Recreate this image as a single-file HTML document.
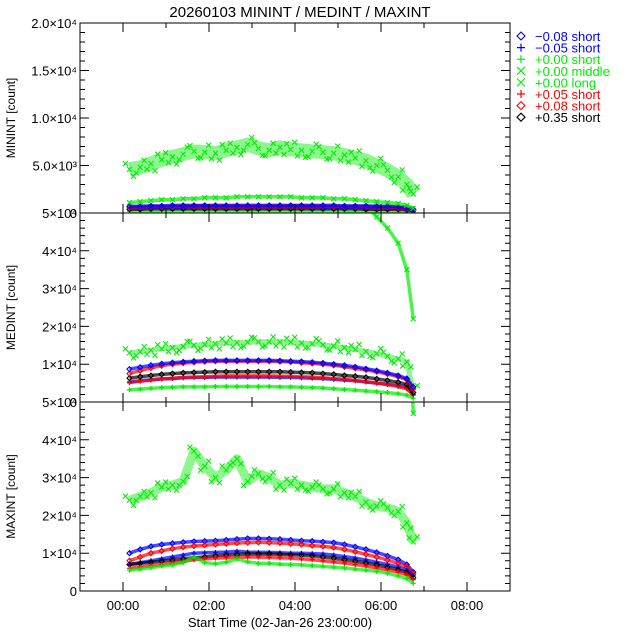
<!DOCTYPE html>
<html><head><meta charset="utf-8"><style>
body{margin:0;background:#fff}
svg{display:block;font-family:"Liberation Sans",sans-serif}
</style></head><body>
<svg id="c" width="640" height="640" viewBox="0 0 640 640"></svg>
<script>
const times=[0.15,0.4,0.65,0.9,1.15,1.4,1.65,1.9,2.15,2.4,2.65,2.9,3.15,3.4,3.65,3.9,4.15,4.4,4.65,4.9,5.15,5.4,5.65,5.9,6.15,6.4,6.6,6.75];
const xTickLabels=["00:00","02:00","04:00","06:00","08:00"];
const xTickHours=[0,2,4,6,8];
// values in 1e3 counts
const minBlueDia=[0.7,0.7,0.75,0.75,0.8,0.8,0.8,0.8,0.8,0.8,0.8,0.8,0.8,0.8,0.8,0.8,0.8,0.8,0.8,0.8,0.75,0.75,0.75,0.7,0.7,0.65,0.6,0.4];
const minBluePlus=[0.55,0.55,0.6,0.6,0.6,0.6,0.65,0.65,0.65,0.65,0.65,0.65,0.65,0.65,0.65,0.65,0.65,0.65,0.6,0.6,0.6,0.6,0.55,0.55,0.5,0.5,0.45,0.3];
const minGreenPlus=[0.2,0.2,0.2,0.25,0.25,0.25,0.25,0.25,0.25,0.25,0.25,0.25,0.25,0.25,0.25,0.25,0.25,0.25,0.25,0.25,0.25,0.2,0.2,0.2,0.2,0.2,0.15,0.1];
const minMiddle=[1.1,1.2,1.3,1.4,1.4,1.5,1.5,1.6,1.6,1.6,1.7,1.7,1.7,1.7,1.7,1.7,1.6,1.6,1.6,1.5,1.5,1.4,1.3,1.2,1.1,1.0,0.8,0.5];
const minLong=[4.6,4.8,5.2,5.6,5.9,6.2,6.5,6.4,6.3,6.6,6.9,7.2,6.8,6.6,6.9,6.7,6.6,6.5,6.4,6.3,6.1,5.8,5.5,5.0,4.5,3.8,3.0,2.0];
const minRedPlus=[0.5,0.5,0.55,0.55,0.6,0.6,0.6,0.6,0.6,0.6,0.6,0.6,0.6,0.6,0.6,0.6,0.6,0.6,0.6,0.6,0.55,0.55,0.55,0.5,0.5,0.45,0.4,0.3];
const minRedDia=[0.65,0.65,0.7,0.7,0.7,0.75,0.75,0.75,0.75,0.75,0.75,0.75,0.75,0.75,0.75,0.75,0.75,0.75,0.75,0.7,0.7,0.7,0.7,0.65,0.65,0.6,0.55,0.35];
const minBlack=[0.4,0.4,0.45,0.45,0.45,0.45,0.45,0.45,0.45,0.45,0.45,0.45,0.45,0.45,0.45,0.45,0.45,0.45,0.45,0.45,0.45,0.45,0.4,0.4,0.4,0.4,0.35,0.25];

const medBlueDia=[8.7,9.2,9.7,10.1,10.4,10.6,10.8,10.9,11.0,11.0,11.0,11.0,11.0,11.0,10.9,10.8,10.7,10.5,10.3,10.0,9.7,9.3,8.8,8.3,7.7,7.0,6.2,4.0];
const medBluePlus=[5.3,5.6,5.9,6.1,6.2,6.4,6.5,6.5,6.6,6.6,6.6,6.6,6.6,6.6,6.5,6.5,6.4,6.3,6.2,6.0,5.8,5.6,5.3,5.0,4.7,4.3,3.8,2.0];
const medGreenPlus=[3.2,3.4,3.6,3.8,3.9,4.0,4.0,4.0,4.1,4.1,4.1,4.1,4.1,4.1,4.0,4.0,3.9,3.8,3.7,3.5,3.3,3.1,2.9,2.7,2.5,2.2,1.8,1.0];
const medMiddle=[80,80,80,80,80,80,80,80,80,80,80,80,80,80,80,80,80,80,80,80,80,60,52,49,46,42,35,22];
const medLong=[13.0,13.3,13.7,14.1,14.4,14.7,15.0,15.2,15.4,15.6,15.7,15.8,15.9,15.9,15.9,15.8,15.6,15.4,15.1,14.8,14.4,13.9,13.4,12.8,12.1,11.4,10.6,3.0];
const medRedPlus=[5.1,5.5,5.8,6.1,6.3,6.5,6.6,6.7,6.8,6.9,6.9,6.9,6.9,6.9,6.8,6.8,6.7,6.6,6.4,6.2,6.0,5.7,5.4,5.0,4.6,4.1,3.5,1.8];
const medRedDia=[7.5,8.3,9.0,9.6,10.0,10.3,10.5,10.7,10.8,10.8,10.8,10.8,10.8,10.8,10.7,10.6,10.4,10.2,10.0,9.7,9.3,8.9,8.5,8.0,7.4,6.7,5.9,3.5];
const medBlack=[6.3,6.7,7.0,7.3,7.5,7.7,7.8,7.9,8.0,8.0,8.0,8.0,8.0,8.0,8.0,7.9,7.8,7.7,7.5,7.3,7.0,6.8,6.5,6.1,5.7,5.2,4.6,2.5];

const maxBlueDia=[10,11,11.8,12.3,12.6,12.9,13.1,13.2,13.3,13.5,13.7,13.9,13.9,13.8,13.7,13.5,13.3,13.2,13.0,12.8,12.3,11.7,11.0,10.2,9.3,8.3,7.0,5.0];
const maxBluePlus=[7,7.5,8,8.5,9,9.5,10,10.1,10.2,10.3,10.5,10.3,10.2,10.2,10.1,10.0,10.0,9.9,9.8,9.5,9.1,8.7,8.2,7.6,7.0,6.3,5.5,4.0];
const maxGreenPlus=[5.5,5.8,6.2,6.6,6.9,7.5,9.0,7.5,7.2,7.6,8.5,7.7,7.3,7.3,7.1,7.0,6.9,6.7,6.5,6.3,6.1,5.8,5.5,5.2,4.7,4.0,3.3,2.0];
const maxMiddle=[80,80,80,80,80,80,80,80,80,80,80,80,80,80,80,80,80,80,80,80,80,80,80,80,80,80,80,47];
const maxLong=[24,25,26,27.5,28,29,37,33,30,32,35,29,31,30,28,28.5,28,27.5,27,27,26,25,23.5,22.5,22,21,18,13];
const maxRedPlus=[6,6.3,6.7,7.0,7.4,7.8,8.3,8.5,8.7,8.8,8.9,9.0,9.0,8.9,8.8,8.7,8.5,8.3,8.0,7.7,7.4,7.0,6.6,6.1,5.6,5.0,4.3,3.0];
const maxRedDia=[8,9,10,10.6,11.2,11.6,11.9,12.1,12.3,12.5,12.7,12.8,12.9,12.8,12.7,12.5,12.3,12.0,11.8,11.5,11.0,10.4,9.7,9.0,8.2,7.3,6.3,4.5];
const maxBlack=[7,7.3,7.6,7.9,8.2,8.5,8.8,9.0,9.3,9.5,9.7,9.8,9.8,9.8,9.7,9.6,9.5,9.3,9.0,8.7,8.3,7.9,7.4,6.9,6.3,5.6,4.9,3.5];

const legendLabels=["\u22120.08 short","\u22120.05 short","+0.00 short","+0.00 middle","+0.00 long","+0.05 short","+0.08 short","+0.35 short"];

const NS="http://www.w3.org/2000/svg";
const svg=document.getElementById('c');
function mk(tag,attrs,parent){const e=document.createElementNS(NS,tag);for(const k in attrs)e.setAttribute(k,attrs[k]);(parent||svg).appendChild(e);return e;}
const X0=80,X1=510,T0=-1,T1=9;
const xs=h=>X0+(h-T0)/(T1-T0)*(X1-X0);
const styles=[{c:"#0000ff",m:"d"},{c:"#0000ff",m:"p"},{c:"#00ee00",m:"p"},{c:"#00ee00",m:"x"},{c:"#00ee00",m:"x"},{c:"#ff0000",m:"p"},{c:"#ff0000",m:"d"},{c:"#000000",m:"d"}];
const panels=[
 {name:"minint",top:23,bot:213,max:20,title:"MININT [count]",ticks:[[0,"0"],[5,"5.0\u00d710\u00b3"],[10,"1.0\u00d710\u2074"],[15,"1.5\u00d710\u2074"],[20,"2.0\u00d710\u2074"]],minor:1,
  series:[minGreenPlus,minBlack,minRedPlus,minBluePlus,minRedDia,minBlueDia,minMiddle,minLong],idx:[2,7,5,1,6,0,3,4]},
 {name:"medint",top:213,bot:402,max:50,title:"MEDINT [count]",ticks:[[0,"0"],[10,"1\u00d710\u2074"],[20,"2\u00d710\u2074"],[30,"3\u00d710\u2074"],[40,"4\u00d710\u2074"],[50,"5\u00d710\u2074"]],minor:2,
  series:[medGreenPlus,medLong,medBluePlus,medRedPlus,medBlack,medRedDia,medBlueDia,medMiddle],idx:[2,4,1,5,7,6,0,3]},
 {name:"maxint",top:402,bot:591,max:50,title:"MAXINT [count]",ticks:[[0,"0"],[10,"1\u00d710\u2074"],[20,"2\u00d710\u2074"],[30,"3\u00d710\u2074"],[40,"4\u00d710\u2074"],[50,"5\u00d710\u2074"]],minor:2,
  series:[maxLong,maxBlueDia,maxRedDia,maxBluePlus,maxBlack,maxRedPlus,maxGreenPlus,maxMiddle],idx:[4,0,6,1,7,5,2,3]}
];
function marker(g,m,x,y,c,s){
 if(m==="d")mk('path',{d:`M${x} ${y-s}L${x+s} ${y}L${x} ${y+s}L${x-s} ${y}Z`,fill:"none",stroke:c,'stroke-width':1.1},g);
 else if(m==="p")mk('path',{d:`M${x-s} ${y}H${x+s}M${x} ${y-s}V${y+s}`,stroke:c,'stroke-width':1.2},g);
 else mk('path',{d:`M${x-s} ${y-s}L${x+s} ${y+s}M${x-s} ${y+s}L${x+s} ${y-s}`,stroke:c,'stroke-width':1.1},g);
}
mk('text',{x:300,y:17,'text-anchor':'middle','font-size':15,fill:'#000',}).textContent="20260103 MININT / MEDINT / MAXINT";
panels.forEach((p,pi)=>{
 const ys=v=>p.bot-v/p.max*(p.bot-p.top);
 const g=mk('g',{});
 
 
 const cid='clip'+pi;
 const cp=mk('clipPath',{id:cid},g);mk('rect',{x:X0,y:p.top,width:X1-X0,height:p.bot-p.top},cp);
 const dg=mk('g',{'clip-path':`url(#${cid})`},g);
 p.series.forEach((arr,si)=>{
  const st=styles[p.idx[si]];
  const sg=mk('g',{},dg);
  
  
  const cloud=st.m==="x"&&arr[5]<p.max&&arr[5]>3;
  const pts=arr.map((v,i)=>xs(times[i]).toFixed(1)+","+ys(v).toFixed(1)).join(" ");
  mk('polyline',{points:pts,fill:"none",stroke:st.c,'stroke-width':cloud?(pi===0?14:(pi===1?5:9)):3.5,'stroke-linejoin':'round','stroke-opacity':cloud?0.45:0.7},sg);
  arr.forEach((v,i)=>{marker(sg,st.m,xs(times[i]),ys(v),st.c,2.5);
   if(cloud){const d=pi===0?7:5;
    marker(sg,st.m,xs(times[i])+4,ys(v)-(i%2?d:-d),st.c,2.5);
    marker(sg,st.m,xs(times[i])-4,ys(v)+(i%3?d:-d)*0.8,st.c,2.5);}});
 });
 mk('rect',{x:X0,y:p.top,width:X1-X0,height:p.bot-p.top,fill:'none',stroke:'#000','stroke-width':1},g);
 for(let v=0;v<=p.max;v+=p.minor){const y=ys(v);const major=p.ticks.some(t=>t[0]===v);const L=major?9:5;
  mk('path',{d:`M${X0} ${y}h${L}M${X1} ${y}h${-L}`,stroke:'#000','stroke-width':1},g);}
 p.ticks.forEach(t=>{const tx=mk('text',{x:77,y:ys(t[0])+5,'text-anchor':'end','font-size':13,fill:'#000'},g);tx.textContent=t[1];
  });
 for(let h=-1;h<=9;h++){const x=xs(h);const L=h%2===0?9:5;
  mk('path',{d:`M${x} ${p.bot}v${-L}M${x} ${p.top}v${L}`,stroke:'#000','stroke-width':1},g);}
 const yt=mk('text',{x:0,y:0,transform:`translate(15 ${(p.top+p.bot)/2}) rotate(-90)`,'text-anchor':'middle','font-size':12,fill:'#000'},g);
 yt.textContent=p.title;
 
 
});
xTickHours.forEach((h,i)=>{const t=mk('text',{x:xs(h),y:610,'text-anchor':'middle','font-size':13,fill:'#000'});t.textContent=xTickLabels[i];
 });
const xt=mk('text',{x:280,y:627,'text-anchor':'middle','font-size':13,fill:'#000'});
xt.textContent="Start Time (02-Jan-26 23:00:00)";


const lg=mk('g',{});


legendLabels.forEach((lab,i)=>{const st=styles[i];const y=36+i*11.6;
 const e=mk('g',{},lg);
 
 
 marker(e,st.m,521,y,st.c,4);
 const t=mk('text',{x:535,y:y+5,'font-size':13,fill:st.c},e);t.textContent=lab;});
</script>
</body></html>
